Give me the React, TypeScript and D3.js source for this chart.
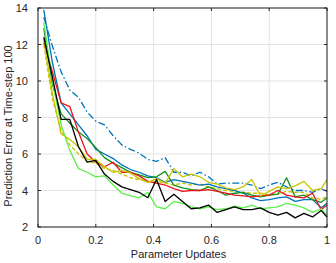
import React from 'react';
import * as d3 from 'd3';

const xs = [0.02, 0.05, 0.08, 0.11, 0.14, 0.17, 0.2, 0.23, 0.26, 0.29, 0.32, 0.35, 0.38, 0.41, 0.44, 0.47, 0.5,
  0.53, 0.56, 0.59, 0.62, 0.65, 0.68, 0.71, 0.74, 0.77, 0.8, 0.83, 0.86, 0.89, 0.92, 0.95, 0.98, 1.0];

const blackVals = [12.4, 10.2, 7.9, 7.9, 6.4, 5.55, 5.65, 4.9, 4.5, 4.2, 4.05, 3.9, 3.6, 4.6, 3.4, 3.8, 3.4,
  3.0, 3.05, 3.2, 2.8, 2.95, 3.1, 2.95, 2.95, 3.05, 2.8, 2.65, 2.8, 2.5, 2.75, 2.55, 2.9, 2.55];
const lightGreenVals = [13.2, 10.0, 7.6, 6.2, 5.2, 5.0, 4.75, 4.8, 4.3, 3.85, 3.7, 3.6, 3.9, 3.1, 3.0, 3.4, 3.3,
  3.1, 3.0, 3.1, 2.95, 3.0, 3.15, 3.05, 3.2, 3.0, 3.05, 3.1, 3.3, 3.2, 3.05, 2.8, 3.0, 2.65];
const redVals = [12.1, 10.5, 8.8, 8.6, 7.2, 6.0, 5.55, 5.3, 5.55, 5.0, 5.0, 4.8, 4.5, 4.4, 4.3, 4.1, 3.95,
  4.0, 4.0, 4.05, 3.95, 3.85, 3.75, 3.7, 3.65, 3.7, 3.75, 4.0, 3.75, 3.65, 3.6, 3.85, 2.95, 3.2];
const greenVals = [12.9, 9.8, 8.2, 7.7, 7.2, 6.85, 6.35, 5.8, 5.5, 5.25, 5.0, 4.85, 4.7, 4.75, 5.05, 4.3, 4.15,
  4.05, 4.0, 4.2, 4.0, 3.75, 3.85, 3.9, 3.75, 3.65, 3.75, 3.8, 4.7, 3.65, 3.75, 3.5, 3.35, 3.6];
const blueVals = [13.9, 11.0, 8.8, 8.2, 7.6, 7.0, 6.25, 6.0, 5.75, 5.4, 5.15, 5.0, 4.8, 4.7, 4.45, 4.6, 4.5,
  4.4, 4.3, 4.35, 4.2, 4.1, 4.0, 3.85, 3.6, 3.45, 3.5, 3.6, 3.65, 3.4, 3.5, 3.5, 3.05, 3.3];
const blueDashVals = [13.5, 11.9, 10.5, 9.5, 9.1, 8.3, 7.8, 7.6, 7.0, 6.5, 6.25, 6.05, 5.7, 5.6, 5.8, 5.0, 5.0,
  4.8, 5.0, 4.75, 4.35, 4.4, 4.4, 4.4, 4.3, 4.1, 4.3, 4.45, 4.2, 4.0, 4.0, 3.9, 4.1, 3.95];
const yellowVals = [12.3, 9.3, 7.1, 6.8, 6.4, 5.7, 5.7, 5.3, 5.0, 5.1, 4.95, 4.65, 4.45, 4.65, 4.4, 5.2, 4.75,
  4.9, 4.75, 4.45, 4.35, 4.15, 4.05, 4.2, 4.6, 3.7, 3.95, 4.2, 4.1, 4.25, 4.5, 4.0, 4.1, 4.6];
const yellowDashVals = [12.0, 9.0, 7.3, 6.5, 6.0, 5.6, 5.5, 5.2, 5.1, 4.9, 4.7, 4.6, 4.5, 4.5, 4.4, 4.3, 4.4,
  4.3, 4.35, 4.2, 4.1, 4.0, 3.95, 3.9, 3.85, 3.85, 3.75, 3.8, 3.95, 3.9, 3.9, 3.6, 3.5, 3.7];

const xTicks = [0, 0.2, 0.4, 0.6, 0.8, 1];
const yTicks = [2, 4, 6, 8, 10, 12, 14];

const series = [
  { name: 'blueDash', values: blueDashVals, color: '#0072BD', dash: '7,2.5,1.5,2.5' },
  { name: 'yellowDash', values: yellowDashVals, color: '#c8c400', dash: '4,2' },
  { name: 'blue', values: blueVals, color: '#0072BD', dash: null },
  { name: 'green', values: greenVals, color: '#11901a', dash: null },
  { name: 'red', values: redVals, color: '#e8141c', dash: null },
  { name: 'yellow', values: yellowVals, color: '#c8c400', dash: null },
  { name: 'lightGreen', values: lightGreenVals, color: '#5cf04a', dash: null },
  { name: 'black', values: blackVals, color: '#000000', dash: null },
];

const W = 336;
const H = 263;
const margin = { top: 8, right: 9, bottom: 36, left: 38 };

export default function App() {
  const x = d3.scaleLinear().domain([0, 1]).range([margin.left, W - margin.right]);
  const y = d3.scaleLinear().domain([2, 14]).range([H - margin.bottom, margin.top]);
  const line = d3.line<number>()
    .x((_, i) => x(xs[i]))
    .y(d => y(d));

  const x0 = x.range()[0], x1 = x.range()[1];
  const y0 = y.range()[0], y1 = y.range()[1];
  const axisColor = '#262626';
  const font = 'Liberation Sans, Arial, sans-serif';

  return (
    <svg width={W} height={H} style={{ position: 'absolute', left: 0, top: 0, background: '#fff' }}
      fontFamily={font}>
      {/* grid */}
      {xTicks.map(t => (
        <line key={'gx' + t} x1={x(t)} x2={x(t)} y1={y0} y2={y1} stroke="#e3e3e3" strokeWidth={1} />
      ))}
      {yTicks.map(t => (
        <line key={'gy' + t} x1={x0} x2={x1} y1={y(t)} y2={y(t)} stroke="#e3e3e3" strokeWidth={1} />
      ))}

      {/* lines */}
      {series.map(s => (
        <path key={s.name} d={line(s.values) || ''} fill="none" stroke={s.color}
          strokeWidth={1.3} strokeDasharray={s.dash || undefined} strokeLinejoin="round" />
      ))}

      {/* box */}
      <rect x={x0} y={y1} width={x1 - x0} height={y0 - y1} fill="none" stroke={axisColor} strokeWidth={1} />

      {/* ticks */}
      {xTicks.map(t => (
        <g key={'tx' + t}>
          <line x1={x(t)} x2={x(t)} y1={y0} y2={y0 - 3} stroke={axisColor} />
          <line x1={x(t)} x2={x(t)} y1={y1} y2={y1 + 3} stroke={axisColor} />
          <text x={x(t)} y={y0 + 17} textAnchor="middle" fontSize={11} fill={axisColor}>{t}</text>
        </g>
      ))}
      {yTicks.map(t => (
        <g key={'ty' + t}>
          <line x1={x0} x2={x0 + 3} y1={y(t)} y2={y(t)} stroke={axisColor} />
          <line x1={x1} x2={x1 - 3} y1={y(t)} y2={y(t)} stroke={axisColor} />
          <text x={x0 - 10} y={y(t) + 4} textAnchor="end" fontSize={11} fill={axisColor}>{t}</text>
        </g>
      ))}

      {/* axis labels */}
      <text x={(x0 + x1) / 2 - 4} y={H - 5} textAnchor="middle" fontSize={11} fill={axisColor}>
        Parameter Updates
      </text>
      <text transform={`translate(12,126) rotate(-90)`} textAnchor="middle" fontSize={11}
        fill={axisColor}>
        Prediction Error at Time-step 100
      </text>
    </svg>
  );
}
